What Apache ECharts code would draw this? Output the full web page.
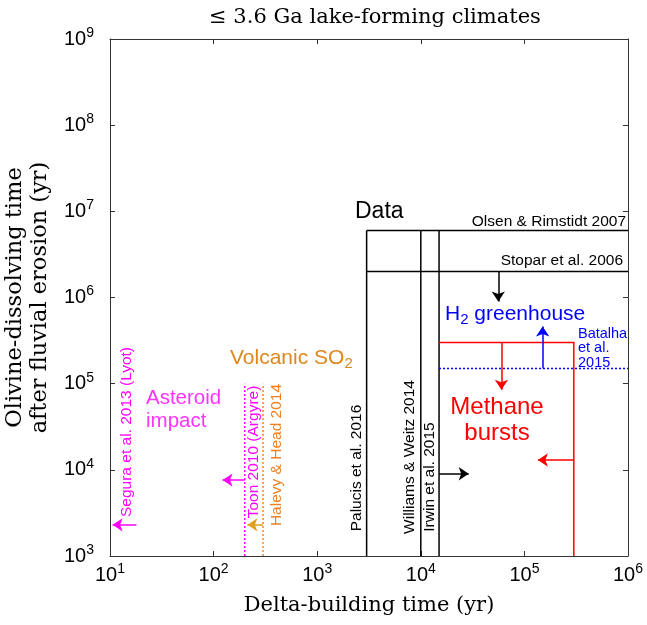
<!DOCTYPE html>
<html>
<head>
<meta charset="utf-8">
<script src="https://cdn.jsdelivr.net/npm/echarts@6/dist/echarts.min.js"></script>
<style>
  html, body { margin: 0; padding: 0; background: #fff; }
  #main { width: 647px; height: 625px; }
</style>
</head>
<body>
<div id="main"></div>
<script>
// axis ranges (decades)
const xRange = [1e1, 1e6];
const yRange = [1e3, 1e9];

// "Data" lines (black)
const olsenLine = [[3000, 6e6], [1e6, 6e6]];
const stoparLine = [[3000, 2e6], [1e6, 2e6]];
const palucisLine = [[3000, 1e3], [3000, 6e6]];
const williamsLine = [[1e4, 1e3], [1e4, 6e6]];
const irwinLine = [[1.5e4, 1e3], [1.5e4, 6e6]];

// methane bursts box (red) and H2 line (blue dotted)
const methaneBox = [[1.5e4, 3e5], [3e5, 3e5], [3e5, 1e3]];
const batalhaLine = [[1.5e4, 1.5e5], [1e6, 1.5e5]];

// asteroid / volcanic dotted lines
const toonLine = [[200, 1e3], [200, 1e5]];
const halevyLine = [[300, 1e3], [300, 1e5]];

// arrows: [from, to]
const blackArrows = [[[5.6e4, 2e6], [5.6e4, 9e5]], [[1.5e4, 9e3], [2.9e4, 9e3]]];
const redArrows = [[[6e4, 3e5], [6e4, 8.5e4]], [[3e5, 1.3e4], [1.35e5, 1.3e4]]];
const blueArrows = [[[1.5e5, 1.5e5], [1.5e5, 4.6e5]]];
const magentaArrows = [[[18, 2300], [10.6, 2300]], [[200, 7600], [122, 7600]]];
const orangeArrows = [[[300, 2300], [212, 2300]]];

const chart = echarts.init(document.getElementById('main'));

const supLabel = {
  color: '#000',
  formatter: v => '{b|10}{s|' + Math.round(Math.log10(v)) + '}',
  rich: {
    b: { fontSize: 20, fontFamily: 'Liberation Sans', color: '#000' },
    s: { fontSize: 14, fontFamily: 'Liberation Sans', color: '#000', padding: [0, 0, 12, 0] }
  }
};

function seg(data, color, width, type) {
  return {
    type: 'lines', coordinateSystem: 'cartesian2d', polyline: true, silent: true,
    symbol: 'none',
    lineStyle: { color: color, width: width, type: type || 'solid', opacity: 1 },
    data: [{ coords: data }]
  };
}
function arrows(list, color) {
  return {
    type: 'lines', coordinateSystem: 'cartesian2d', silent: true,
    symbol: ['none', 'arrow'], symbolSize: 10,
    lineStyle: { color: color, width: 1.5, opacity: 1 },
    data: list.map(a => ({ coords: a }))
  };
}

function vText(text, x, y, color, size) {
  return {
    type: 'text', x: x, y: y, rotation: Math.PI / 2,
    style: { text: text, fill: color, fontSize: size || 15.5, fontFamily: 'Liberation Sans',
      align: 'center', verticalAlign: 'middle' }
  };
}
function hText(text, x, y, color, size, align, lh) {
  return {
    type: 'text', x: x, y: y,
    style: { text: text, fill: color, fontSize: size, fontFamily: 'Liberation Sans',
      align: align || 'left', verticalAlign: 'middle', lineHeight: lh || Math.round(size * 1.15) }
  };
}

const axisCommon = {
  type: 'log', logBase: 10, interval: 1,
  axisLine: { lineStyle: { color: '#333', width: 1 } },
  axisTick: { inside: true, length: 5, lineStyle: { color: '#333' } },
  splitLine: { show: false }
};

const option = {
  animation: false,
  title: {
    text: '≤ 3.6 Ga lake-forming climates',
    left: 370, top: 2, textAlign: 'center',
    textStyle: { fontFamily: 'DejaVu Serif', fontWeight: 'normal', fontSize: 21, color: '#000' }
  },
  grid: { left: 110, right: 19, top: 39, bottom: 69, outerBoundsMode: 'none', containLabel: false },
  xAxis: [Object.assign({}, axisCommon, {
    min: xRange[0], max: xRange[1],
    name: 'Delta-building time (yr)', nameLocation: 'middle', nameGap: 39,
    nameTextStyle: { fontFamily: 'DejaVu Serif', fontSize: 21, color: '#000' },
    axisLabel: Object.assign({ margin: 6 }, supLabel)
  }), Object.assign({}, axisCommon, {
    min: xRange[0], max: xRange[1], position: 'top', axisLabel: { show: false }
  })],
  yAxis: [Object.assign({}, axisCommon, {
    min: yRange[0], max: yRange[1],
    name: 'Olivine-dissolving time\nafter fluvial erosion (yr)', nameLocation: 'middle', nameGap: 57,
    nameTextStyle: { fontFamily: 'DejaVu Serif', fontSize: 22.5, color: '#000', lineHeight: 25 },
    axisLabel: Object.assign({ margin: 16 }, supLabel)
  }), Object.assign({}, axisCommon, {
    min: yRange[0], max: yRange[1], position: 'right', axisLabel: { show: false }
  })],
  series: [
    seg(olsenLine, '#000', 1.5),
    seg(stoparLine, '#000', 1.5),
    seg(palucisLine, '#000', 1.5),
    seg(williamsLine, '#000', 1.5),
    seg(irwinLine, '#000', 1.5),
    seg(methaneBox, '#ff0000', 1.5),
    seg(batalhaLine, '#0000ff', 1.5, [2, 2]),
    seg(toonLine, '#ff00ff', 1.5, [2, 2]),
    seg(halevyLine, '#f5892a', 1.5, [2, 2]),
    arrows(blackArrows, '#000'),
    arrows(redArrows, '#ff0000'),
    arrows(blueArrows, '#0000ff'),
    arrows(magentaArrows, '#ff00ff'),
    arrows(orangeArrows, '#e0a020')
  ],
  graphic: [
    vText('Segura et al. 2013 (Lyot)', 127, 432, '#ff00ff'),
    vText('Toon 2010 (Argyre)', 254, 452, '#ff00ff'),
    vText('Halevy & Head 2014', 277, 455, '#f07f1f'),
    vText('Palucis et al. 2016', 357, 468, '#000'),
    vText('Williams & Weitz 2014', 410, 457, '#000'),
    vText('Irwin et al. 2015', 430, 477, '#000'),
    hText('Asteroid\nimpact', 146, 410, '#ff33ff', 20.5, 'left', 23),
    {
      type: 'text', x: 230, y: 358,
      style: { text: 'Volcanic SO{s|2}', fill: '#e0861a', fontSize: 21, fontFamily: 'Liberation Sans',
        verticalAlign: 'middle',
        rich: { s: { fontSize: 15, fill: '#e0861a', fontFamily: 'Liberation Sans', padding: [12, 0, 0, 0] } } }
    },
    hText('Data', 355, 212, '#000', 23),
    hText('Olsen & Rimstidt 2007', 626, 222, '#000', 15.5, 'right'),
    hText('Stopar et al. 2006', 623, 261, '#000', 15.5, 'right'),
    {
      type: 'text', x: 445, y: 314,
      style: { text: 'H{s|2} greenhouse', fill: '#0000ff', fontSize: 21, fontFamily: 'Liberation Sans',
        verticalAlign: 'middle',
        rich: { s: { fontSize: 15, fill: '#0000ff', fontFamily: 'Liberation Sans', padding: [12, 0, 0, 0] } } }
    },
    hText('Batalha\net al.\n2015', 578, 348, '#0000ff', 14.5, 'left', 14.5),
    {
      type: 'text', x: 497, y: 420,
      style: { text: 'Methane\nbursts', fill: '#ff0000', fontSize: 24, fontFamily: 'Liberation Sans',
        align: 'center', verticalAlign: 'middle', lineHeight: 26 }
    }
  ]
};

chart.setOption(option);
</script>
</body>
</html>
